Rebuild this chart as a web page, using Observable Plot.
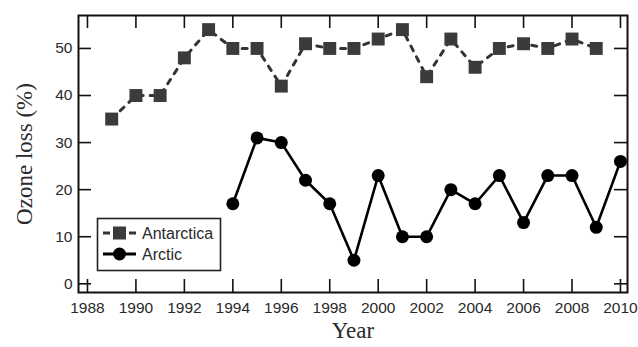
<!DOCTYPE html>
<html>
<head>
<meta charset="utf-8">
<script src="https://cdn.jsdelivr.net/npm/d3@7"></script>
<script src="https://cdn.jsdelivr.net/npm/@observablehq/plot@0.6"></script>
<style>
  html, body { margin: 0; padding: 0; background: #fff; }
  #chart { width: 638px; height: 347px; }
</style>
</head>
<body>
<div id="chart"></div>
<script>
const antarcticaYears = [1989,1990,1991,1992,1993,1994,1995,1996,1997,1998,1999,2000,2001,2002,2003,2004,2005,2006,2007,2008,2009];
const antarcticaLoss  = [35,40,40,48,54,50,50,42,51,50,50,52,54,44,52,46,50,51,50,52,50];
const arcticYears = [1994,1995,1996,1997,1998,1999,2000,2001,2002,2003,2004,2005,2006,2007,2008,2009,2010];
const arcticLoss  = [17,31,30,22,17,5,23,10,10,20,17,23,13,23,23,12,26];
const xTicks = [1988,1990,1992,1994,1996,1998,2000,2002,2004,2006,2008,2010];
const yTicks = [0,10,20,30,40,50];
const seriesNames = ["Antarctica", "Arctic"];

const antarctica = antarcticaYears.map((year, i) => ({year, loss: antarcticaLoss[i]}));
const arctic = arcticYears.map((year, i) => ({year, loss: arcticLoss[i]}));

const W = 638, H = 347, mL = 78, mR = 11, mT = 15, mB = 55;
const fw = W - mL - mR, fh = H - mT - mB;
const tickLen = 13;
const sans = "Arial, 'Liberation Sans', Helvetica, sans-serif";
const serif = "'Times New Roman', 'Liberation Serif', Times, serif";

const chart = Plot.plot({
  width: W, height: H,
  marginLeft: mL, marginRight: mR, marginTop: mT, marginBottom: mB,
  x: {domain: [1987.63, 2010.29], axis: null},
  y: {domain: [-1.85, 57], axis: null},
  style: {background: "#fff", fontFamily: sans},
  marks: [
    Plot.tickY(yTicks, {y: d => d, insetRight: fw - tickLen, stroke: "#111", strokeWidth: 1.6}),
    Plot.tickY(yTicks, {y: d => d, insetLeft: fw - tickLen, stroke: "#111", strokeWidth: 1.6}),
    Plot.tickX(xTicks, {x: d => d, insetTop: fh - tickLen, stroke: "#111", strokeWidth: 1.6}),
    Plot.tickX(xTicks, {x: d => d, insetBottom: fh - tickLen, stroke: "#111", strokeWidth: 1.6}),
    Plot.frame({stroke: "#111", strokeWidth: 2}),
    Plot.text(yTicks, {y: d => d, text: d => String(d), frameAnchor: "left", textAnchor: "end", lineAnchor: "middle", dx: -6, fontSize: 15.5, fill: "#2a2a2a"}),
    Plot.text(xTicks, {x: d => d, text: d => String(d), frameAnchor: "bottom", textAnchor: "middle", lineAnchor: "middle", dy: 16, fontSize: 15.5, fill: "#2a2a2a"}),
    Plot.text(["Year"], {text: d => d, frameAnchor: "bottom", textAnchor: "middle", lineAnchor: "middle", dy: 38, fontSize: 23, fontFamily: serif, fill: "#2a2a2a"}),
    Plot.text(["Ozone loss (%)"], {text: d => d, frameAnchor: "left", textAnchor: "middle", lineAnchor: "middle", rotate: -90, dx: -54, fontSize: 23, fontFamily: serif, fill: "#2a2a2a"}),
    Plot.line(antarctica, {x: "year", y: "loss", stroke: "#333", strokeWidth: 3, strokeDasharray: "5,7"}),
    Plot.dot(antarctica, {x: "year", y: "loss", symbol: "square", r: 7.3, fill: "#3b3b3b", stroke: "none"}),
    Plot.line(arctic, {x: "year", y: "loss", stroke: "#000", strokeWidth: 2.6}),
    Plot.dot(arctic, {x: "year", y: "loss", symbol: "circle", r: 6.5, fill: "#000", stroke: "none"})
  ]
});
document.getElementById("chart").appendChild(chart);

const svg = d3.select(chart);
const lg = svg.append("g").attr("class", "legend").attr("text-anchor", "start");
lg.append("rect").attr("x", 97.5).attr("y", 218.5).attr("width", 123).attr("height", 52)
  .attr("fill", "#fff").attr("stroke", "#222").attr("stroke-width", 1.6);
const r1 = 233, r2 = 254;
lg.append("line").attr("x1", 103).attr("x2", 110).attr("y1", r1).attr("y2", r1).attr("stroke", "#333").attr("stroke-width", 3);
lg.append("line").attr("x1", 129).attr("x2", 136).attr("y1", r1).attr("y2", r1).attr("stroke", "#333").attr("stroke-width", 3);
lg.append("rect").attr("x", 113).attr("y", r1 - 6.5).attr("width", 13).attr("height", 13).attr("fill", "#3b3b3b");
lg.append("text").attr("x", 142).attr("y", r1).attr("dy", "0.35em").attr("font-size", 16).attr("font-family", sans).attr("fill", "#2a2a2a").text(seriesNames[0]);
lg.append("line").attr("x1", 103).attr("x2", 136).attr("y1", r2).attr("y2", r2).attr("stroke", "#000").attr("stroke-width", 3);
lg.append("circle").attr("cx", 119.5).attr("cy", r2).attr("r", 6.5).attr("fill", "#000");
lg.append("text").attr("x", 142).attr("y", r2).attr("dy", "0.35em").attr("font-size", 16).attr("font-family", sans).attr("fill", "#2a2a2a").text(seriesNames[1]);
</script>
</body>
</html>
